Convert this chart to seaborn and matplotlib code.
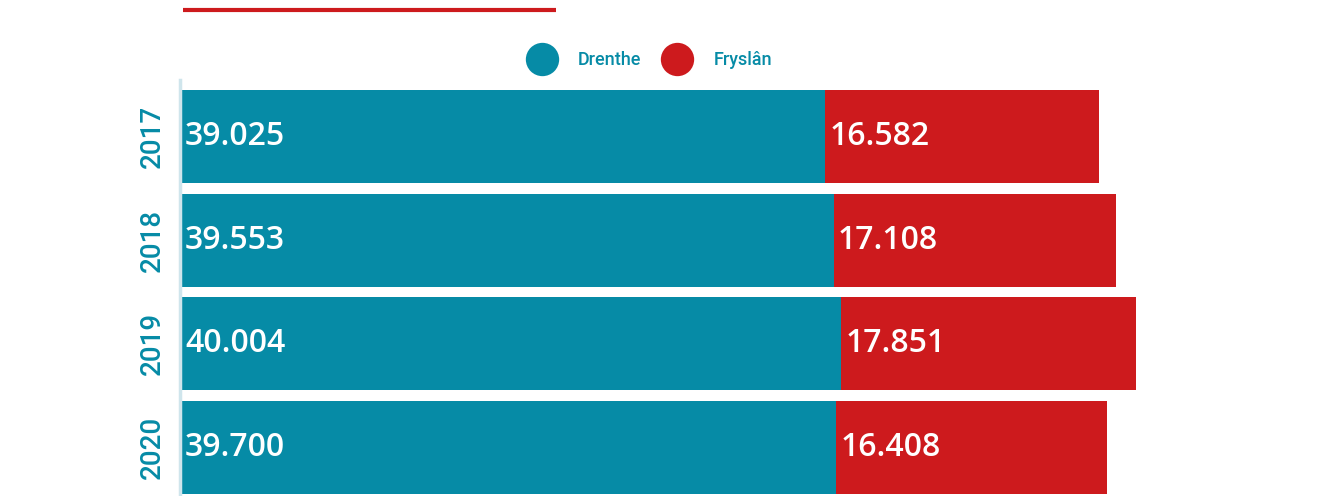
import matplotlib
matplotlib.use("Agg")
import matplotlib.pyplot as plt
import seaborn as sns
import pandas as pd
import numpy as np
from matplotlib.lines import Line2D

years = ["2017", "2018", "2019", "2020"]
drenthe = [39025, 39553, 40004, 39700]
fryslan = [16582, 17108, 17851, 16408]
series_names = ["Drenthe", "Fryslân"]

TEAL = "#068ba6"
RED = "#cd1a1d"

sns.set_theme(style="white")
plt.rcParams['font.family'] = ['Roboto', 'DejaVu Sans']

W, H = 1319, 496
fig = plt.figure(figsize=(W / 100, H / 100), dpi=100)

left_px, right_px, top_px, bot_px = 180, 1300, 80, 504
ax = fig.add_axes([left_px / W, 1 - bot_px / H, (right_px - left_px) / W, (bot_px - top_px) / H])

df = pd.DataFrame({"year": years, "Drenthe": drenthe, "Fryslân": fryslan})
df["total"] = df["Drenthe"] + df["Fryslân"]

sns.barplot(data=df, y="year", x="total", color=RED, width=0.9, ax=ax,
            saturation=1, orient="h", linewidth=0)
sns.barplot(data=df, y="year", x="Drenthe", color=TEAL, width=0.9, ax=ax,
            saturation=1, orient="h", linewidth=0)

px_per_unit = 645 / 39025
ax.set_xlim(0, (right_px - left_px) / px_per_unit)
ax.set_ylim(3.545, -0.545)

for i, (d, f) in enumerate(zip(drenthe, fryslan)):
    ax.text(300, i, f"{d/1000:.3f}", color="white", fontsize=23, va="center", ha="left",
            family=["Open Sans", "DejaVu Sans"], fontweight="semibold")
    ax.text(d + 250, i, f"{f/1000:.3f}", color="white", fontsize=23, va="center", ha="left",
            family=["Open Sans", "DejaVu Sans"], fontweight="semibold")

ax.set_xlabel("")
ax.set_ylabel("")
ax.set_xticks([])
ax.tick_params(axis="y", length=0, pad=20, labelsize=20, labelcolor=TEAL)
for lab in ax.get_yticklabels():
    lab.set_rotation(90)
    lab.set_va("center")
    lab.set_ha("center")
    lab.set_fontweight("medium")
for s in ["top", "right", "bottom"]:
    ax.spines[s].set_visible(False)
ax.spines["left"].set_color("#cfe5ec")
ax.spines["left"].set_linewidth(2.5)

# legend
handles = [Line2D([0], [0], marker="o", linestyle="", markersize=24, markerfacecolor=c,
                  markeredgewidth=0) for c in [TEAL, RED]]
leg = fig.legend(handles, series_names, loc="center", bbox_to_anchor=(648 / W, 1 - 60 / H),
                 ncol=2, frameon=False, handletextpad=1.0, columnspacing=1.0,
                 prop={"family": "Roboto", "weight": "medium", "size": 13})
for t in leg.get_texts():
    t.set_color(TEAL)

# title underline
fig.add_artist(Line2D([183 / W, 556 / W], [1 - 10 / H, 1 - 10 / H], color=RED, linewidth=3,
                      solid_capstyle="butt"))

fig.savefig("out.png", dpi=100)
